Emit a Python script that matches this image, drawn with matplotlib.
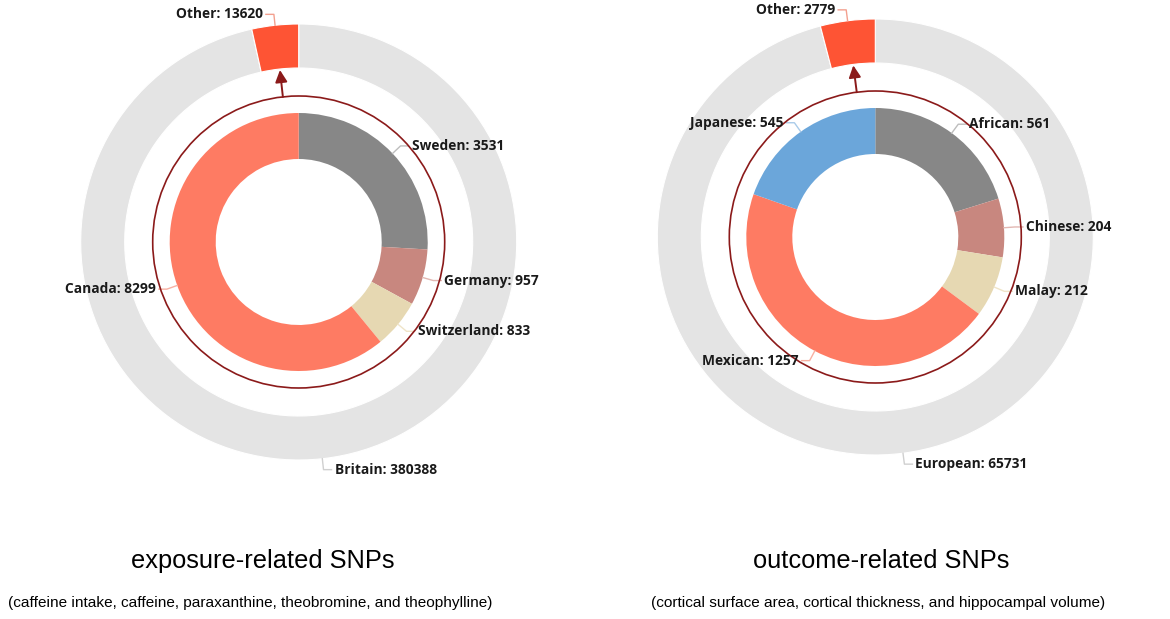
import numpy as np
import matplotlib
matplotlib.use("Agg")
import matplotlib.pyplot as plt
from matplotlib.patches import Circle

# exposure side
exp_outer_labels = ["Britain", "Other"]
exp_outer_values = [380388, 13620]
exp_inner_labels = ["Sweden", "Germany", "Switzerland", "Canada"]
exp_inner_values = [3531, 957, 833, 8299]

# outcome side
out_outer_labels = ["European", "Other"]
out_outer_values = [65731, 2779]
out_inner_labels = ["African", "Chinese", "Malay", "Mexican", "Japanese"]
out_inner_values = [561, 204, 212, 1257, 545]

exp_title = "exposure-related SNPs"
exp_sub = "(caffeine intake, caffeine, paraxanthine, theobromine, and theophylline)"
out_title = "outcome-related SNPs"
out_sub = "(cortical surface area, cortical thickness, and hippocampal volume)"

W, H = 1170, 619
outer_colors = ["#e4e4e4", "#fe5434"]
inner_palette = {
    "Sweden": "#878787", "African": "#878787",
    "Germany": "#c8877f", "Chinese": "#c8877f",
    "Switzerland": "#e6d8b2", "Malay": "#e6d8b2",
    "Canada": "#fe7b63", "Mexican": "#fe7b63",
    "Japanese": "#6ba6da",
}
line_palette = {
    "#e4e4e4": "#d0d0d0", "#fe5434": "#f3a08f", "#878787": "#bdbdbd",
    "#c8877f": "#e2b7b2", "#e6d8b2": "#efe4c8", "#fe7b63": "#f8b0a2",
    "#6ba6da": "#a9cbe9",
}
LABEL_FONT = dict(family="Open Sans", weight="bold", size=9.9, color="#1a1a1a")


def add_labels(ax, cx, cy, r, labels, values, colors):
    vals = np.array(values, dtype=float)
    ang = 90 - 360 * (np.cumsum(vals) - vals / 2) / vals.sum()
    for lab, v, a, c in zip(labels, values, np.deg2rad(ang), colors):
        x0, y0 = cx + r * np.cos(a), cy + r * np.sin(a)
        x1, y1 = cx + (r + 11) * np.cos(a), cy + (r + 11) * np.sin(a)
        s = 1 if np.cos(a) >= 0 else -1
        x2 = x1 + 8 * s
        ax.plot([x0, x1, x2], [y0, y1, y1], color=line_palette[c], lw=1, zorder=1)
        ax.text(x2 + 3 * s, y1, f"{lab}: {v}", ha="left" if s > 0 else "right",
                va="center", **LABEL_FONT)


def draw(ax, cx, cy, outer_labels, outer_values, inner_labels, inner_values,
         title, sub, tx, sx):
    r_out, w_out = 218, 44
    r_in, w_in = 129, 46
    r_ring = 146
    ax.pie(outer_values, colors=outer_colors, startangle=90, counterclock=False,
           radius=r_out, center=(cx, cy), frame=True,
           wedgeprops=dict(width=w_out, edgecolor="white", linewidth=0.8))
    in_colors = [inner_palette[l] for l in inner_labels]
    ax.pie(inner_values, colors=in_colors, startangle=90, counterclock=False,
           radius=r_in, center=(cx, cy), frame=True,
           wedgeprops=dict(width=w_in, linewidth=0))
    ax.add_patch(Circle((cx, cy), r_ring, fill=False, ec="#8b1a1a", lw=1.2, zorder=2))

    # arrow from ring to the "Other" slice
    frac = outer_values[-1] / sum(outer_values)
    a = np.deg2rad(90 + 180 * frac)
    ax.annotate("", xy=(cx + (r_out - w_out - 1) * np.cos(a), cy + (r_out - w_out - 1) * np.sin(a)),
                xytext=(cx + r_ring * np.cos(a), cy + r_ring * np.sin(a)),
                arrowprops=dict(arrowstyle="-|>", color="#8b1a1a", lw=1.4,
                                mutation_scale=18, shrinkA=0, shrinkB=0))

    add_labels(ax, cx, cy, r_out, outer_labels, outer_values, outer_colors)
    add_labels(ax, cx, cy, r_in, inner_labels, inner_values, in_colors)

    ax.text(tx, H - 561, title, ha="center", va="center",
            family="Liberation Sans", size=18.3, color="black")
    ax.text(sx, H - 603, sub, ha="center", va="center",
            family="Liberation Sans", size=11.1, color="black")


fig = plt.figure(figsize=(W / 100, H / 100), dpi=100)
ax = fig.add_axes([0, 0, 1, 1])

draw(ax, 298.7, H - 242, exp_outer_labels, exp_outer_values,
     exp_inner_labels, exp_inner_values, exp_title, exp_sub, 263, 250)
draw(ax, 875.3, H - 237, out_outer_labels, out_outer_values,
     out_inner_labels, out_inner_values, out_title, out_sub, 881, 878)

ax.set_xlim(0, W)
ax.set_ylim(0, H)
ax.set_aspect("equal")
ax.axis("off")

fig.savefig("out.png", dpi=100, facecolor="white")
